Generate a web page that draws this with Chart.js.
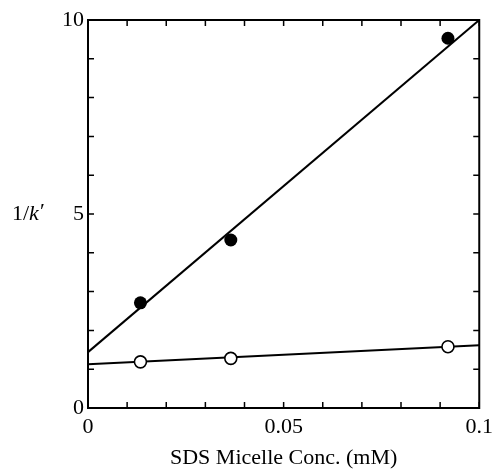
<!DOCTYPE html>
<html>
<head>
<meta charset="utf-8">
<script src="https://cdn.jsdelivr.net/npm/chart.js@4.4.1/dist/chart.umd.min.js"></script>
<style>
  html, body { margin: 0; padding: 0; background: #fff; }
  #wrap { width: 499px; height: 472px; }
</style>
</head>
<body>
<div id="wrap"><canvas id="myChart" width="499" height="472"></canvas></div>
<script>
let concX = [0.0134, 0.0365, 0.092]
let filledY = [2.71, 4.33, 9.53]
let openY = [1.19, 1.28, 1.58]

// fitted straight lines, ends at x = 0 and x = 0.1
let fitX = [0, 0.1]
let filledFitY = [1.44, 10]
let openFitY = [1.13, 1.62]

let xLabels = [0, 0.05, 0.1]
let yLabels = [0, 5, 10]

let serif = "'Liberation Serif', 'Times New Roman', serif"

const toPts = (xs, ys) => xs.map((x, i) => ({ x: x, y: ys[i] }))

// frame + inward tick marks on all four sides, and the horizontal y title
const framePlugin = {
    id: 'frame',
    afterDraw(chart) {
        const c = chart.ctx
        const a = chart.chartArea
        const xs = chart.scales.x
        const ys = chart.scales.y
        const len = 6
        c.save()
        c.strokeStyle = '#000'
        c.lineWidth = 2
        c.strokeRect(a.left, a.top, a.right - a.left, a.bottom - a.top)
        c.lineWidth = 1.5
        c.beginPath()
        xs.ticks.forEach(t => {
            const px = xs.getPixelForValue(t.value)
            c.moveTo(px, a.bottom); c.lineTo(px, a.bottom - len)
            c.moveTo(px, a.top); c.lineTo(px, a.top + len)
        })
        ys.ticks.forEach(t => {
            const py = ys.getPixelForValue(t.value)
            c.moveTo(a.left, py); c.lineTo(a.left + len, py)
            c.moveTo(a.right, py); c.lineTo(a.right - len, py)
        })
        c.stroke()

        // "1/k′" written horizontally, k in italic
        const y5 = ys.getPixelForValue(5)
        c.fillStyle = '#000'
        c.textBaseline = 'middle'
        c.textAlign = 'left'
        let x = 12
        c.font = '22px ' + serif
        c.fillText('1/', x, y5)
        x += c.measureText('1/').width
        c.font = 'italic 22px ' + serif
        c.fillText('k', x, y5)
        x += c.measureText('k').width
        c.font = '22px ' + serif
        c.fillText('\u2032', x + 1, y5 - 2)
        c.restore()
    }
}

let ctx = document.getElementById('myChart').getContext('2d')

let myChart = new Chart(ctx, {
    type: 'scatter',
    data: {
        datasets: [
            {
                // filled circles
                data: toPts(concX, filledY),
                pointStyle: 'circle',
                pointRadius: 6.5,
                backgroundColor: '#000',
                borderColor: '#000',
                borderWidth: 0,
                order: 1,
            },
            {
                // open circles
                data: toPts(concX, openY),
                pointStyle: 'circle',
                pointRadius: 6,
                backgroundColor: '#fff',
                borderColor: '#000',
                borderWidth: 1.6,
                order: 0,
            },
            {
                type: 'line',
                data: toPts(fitX, filledFitY),
                borderColor: '#000',
                borderWidth: 2,
                pointRadius: 0,
                fill: false,
                clip: false,
                order: 2,
            },
            {
                type: 'line',
                data: toPts(fitX, openFitY),
                borderColor: '#000',
                borderWidth: 2,
                pointRadius: 0,
                fill: false,
                clip: false,
                order: 2,
            },
        ],
    },
    options: {
        responsive: false,
        animation: false,
        events: [],
        layout: {
            padding: { top: 20, right: 17, left: 0, bottom: 0 },
        },
        plugins: {
            legend: { display: false },
            tooltip: { enabled: false },
        },
        scales: {
            x: {
                type: 'linear',
                min: 0,
                max: 0.1,
                afterFit: (s) => { s.height = 64 },
                border: { display: false },
                grid: { display: false, drawTicks: false },
                ticks: {
                    stepSize: 0.01,
                    autoSkip: false,
                    maxRotation: 0,
                    padding: 6,
                    color: '#000',
                    font: { family: serif, size: 22 },
                    callback: (v) => {
                        let hit = xLabels.find(l => Math.abs(l - v) < 1e-9)
                        return hit === undefined ? '' : String(hit)
                    },
                },
                title: {
                    display: true,
                    text: 'SDS Micelle Conc. (mM)',
                    color: '#000',
                    font: { family: serif, size: 22 },
                    padding: { top: 0, bottom: 1 },
                },
            },
            y: {
                type: 'linear',
                min: 0,
                max: 10,
                afterFit: (s) => { s.width = 88 },
                border: { display: false },
                grid: { display: false, drawTicks: false },
                ticks: {
                    stepSize: 1,
                    autoSkip: false,
                    padding: 4,
                    color: '#000',
                    font: { family: serif, size: 22 },
                    callback: (v) => yLabels.includes(v) ? String(v) : '',
                },
            },
        },
    },
    plugins: [framePlugin],
})
</script>
</body>
</html>
